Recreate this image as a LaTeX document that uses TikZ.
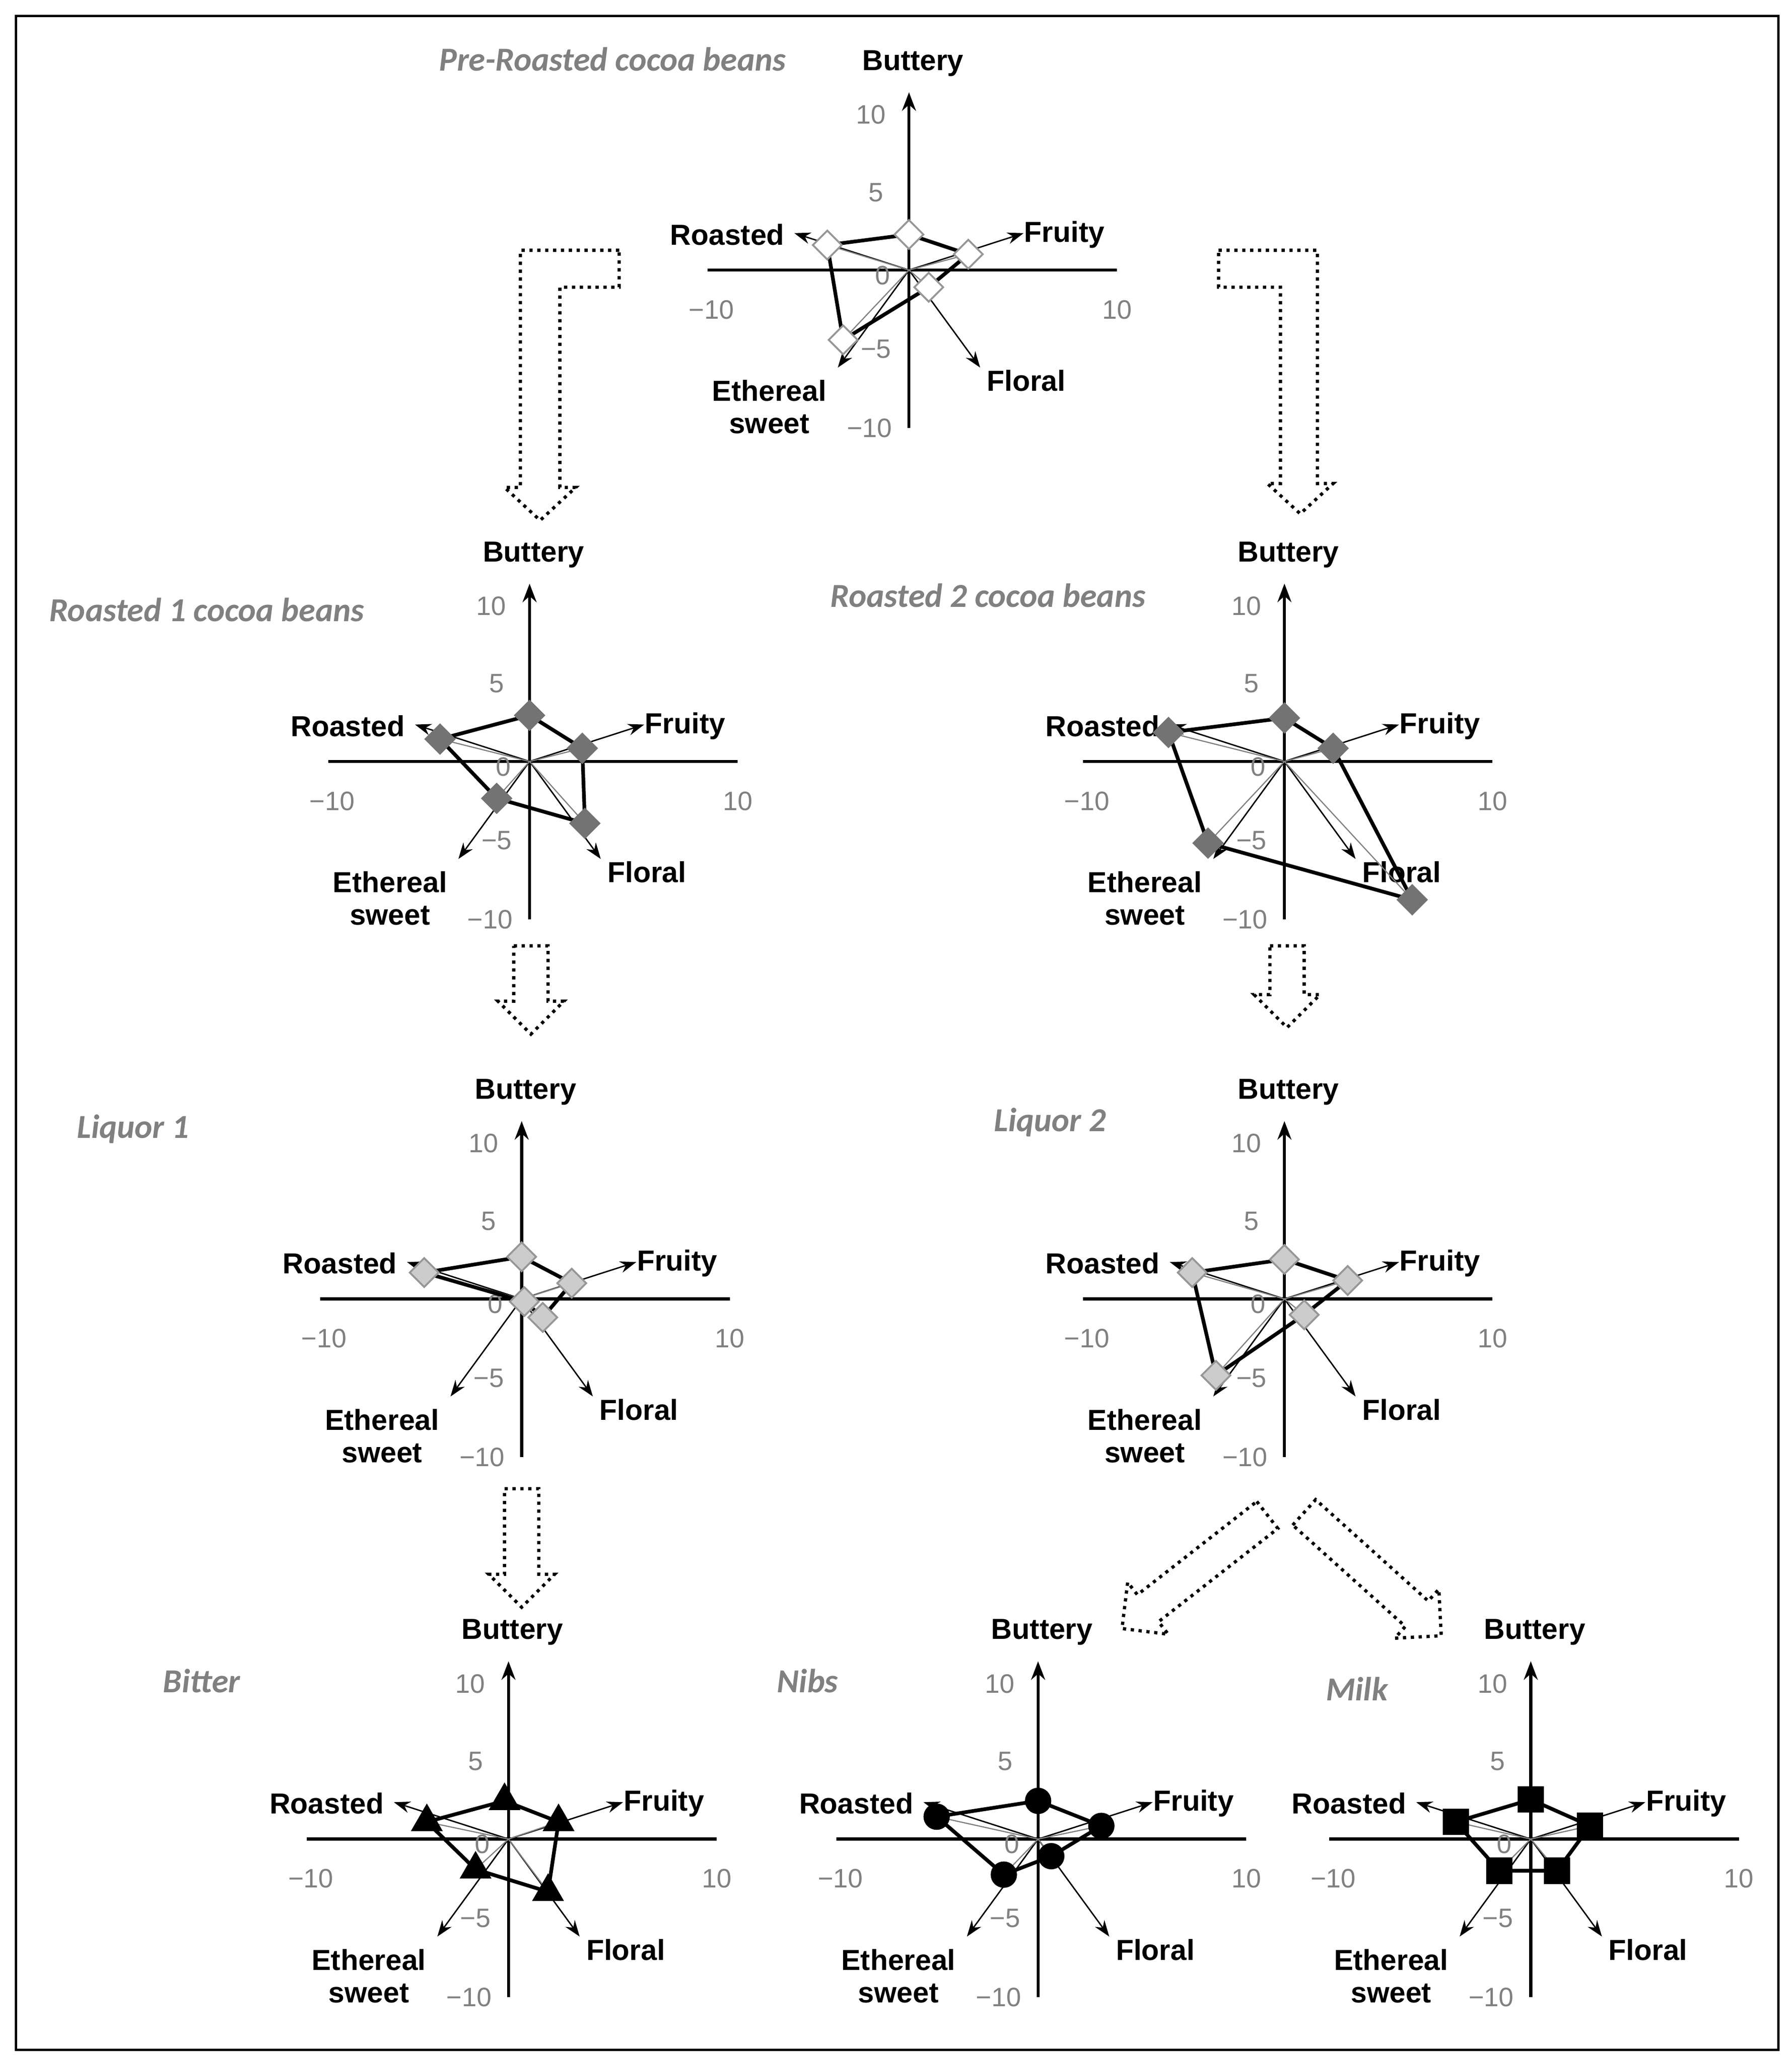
\documentclass[tikz,border=0pt]{standalone}
\usepackage{fontspec}
\setmainfont{Liberation Sans}
\newfontfamily\ttl{Carlito}
\usetikzlibrary{shapes.geometric,arrows.meta}
\definecolor{tg}{RGB}{128,128,128}
\definecolor{mg}{RGB}{150,150,150}
\tikzset{
 axis/.style={line width=1.3pt,black},
 spoke/.style={line width=0.6pt,-{Stealth[length=7pt,width=5pt]}},
 lab/.style={font=\fontsize{12.5}{14}\selectfont\bfseries,align=center,inner sep=1pt},
 tick/.style={font=\fontsize{11.5}{13}\selectfont,text=tg,inner sep=1pt},
 ttlst/.style={font=\ttl\fontsize{14.5}{16}\selectfont\bfseries\itshape,text=tg},
 poly/.style={line width=1.6pt,line join=round},
 mk/.style={draw=mg,line width=0.8pt,inner sep=0pt},
 dopen/.style={mk,diamond,minimum size=0.45cm,fill=white},
 dlight/.style={mk,diamond,minimum size=0.45cm,fill=black!20},
 dgray/.style={mk,diamond,minimum size=0.45cm,fill=black!55,draw=black!55},
 tri/.style={isosceles triangle,shape border rotate=90,isosceles triangle apex angle=60,fill=black,inner sep=0pt,minimum size=0.42cm},
 circ/.style={circle,fill=black,minimum size=0.4cm,inner sep=0pt},
 sq/.style={rectangle,fill=black,minimum size=0.4cm,inner sep=0pt},
 blk/.style={line width=1.4pt,dotted,fill=white,line join=miter},
}
% #1 prefix, #2 cx, #3 cy, #4 marker, #5-#9 data points B Fr Fl E R
\newcommand\radar[9]{%
 \begin{scope}[shift={(#2,#3)}]
 \coordinate (#1o) at (0,0);
 \draw[axis] (-153,0) -- (158,0);
 \draw[axis,-{Stealth[length=8pt,width=6pt]}] (0,120) -- (0,-135);
 \draw[spoke] (#1o) -- (87,-28);
 \draw[spoke] (#1o) -- (54,74);
 \draw[spoke] (#1o) -- (-54,74);
 \draw[spoke] (#1o) -- (-87,-28);
 \node[tick] (#1t1) at (-29,-118) {10};
 \node[tick] (#1t2) at (-25,-59) {5};
 \node[tick] (#1t3) at (-20,4) {0};
 \node[tick] (#1t4) at (-25,60) {−5};
 \node[tick] (#1t5) at (-30,120) {−10};
 \node[tick] (#1t6) at (-150,30) {−10};
 \node[tick] (#1t7) at (158,30) {10};
 \node[lab] (#1lb) at (3,-157) {Buttery};
 \node[lab] (#1lr) at (-138,-27) {Roasted};
 \node[lab] (#1lf) at (118,-27) {Fruity};
 \node[lab] (#1ll) at (89,84) {Floral};
 \node[lab] (#1le) at (-106,104) {Ethereal\\sweet};
 \coordinate (#1B) at (#5); \coordinate (#1F) at (#6); \coordinate (#1L) at (#7);
 \coordinate (#1E) at (#8); \coordinate (#1R) at (#9);
 \draw[line width=0.5pt,tg] (#1o) -- (#1F) (#1o) -- (#1L) (#1o) -- (#1E) (#1o) -- (#1R);
 \draw[poly] (#1B) -- (#1F) -- (#1L) -- (#1E) -- (#1R) -- cycle;
 \foreach \p in {B,F,L,E,R} \node[#4] at (#1\p) {};
 \end{scope}}
% straight block arrow: #1 x, #2 y, #3 rotate, #4 length
\newcommand\barrow[4]{%
 \begin{scope}[shift={(#1,#2)},rotate=#3]
 \draw[blk] (-13,0) -- (13,0) -- (13,#4-25) -- (25,#4-25) -- (0,#4) -- (-25,#4-25) -- (-13,#4-25) -- cycle;
 \end{scope}}
\begin{document}
\begin{tikzpicture}[x=0.02cm,y=-0.02cm]
\useasboundingbox (0,0) rectangle (1360,1566);
\draw[line width=1pt] (12,12) rectangle (1350,1556);
% titles
\node[ttlst] (t1) at (465,45) {Pre-Roasted cocoa beans};
\node[ttlst] (t2) at (157,463) {Roasted 1 cocoa beans};
\node[ttlst] (t3) at (750,452) {Roasted 2 cocoa beans};
\node[ttlst] (t4) at (101,857) {Liquor 1};
\node[ttlst] (t5) at (797,852) {Liquor 2};
\node[ttlst] (t6) at (153,1276) {Bitter};
\node[ttlst] (t7) at (613,1276) {Nibs};
\node[ttlst] (t8) at (1030,1282) {Milk};
% block arrows
\draw[blk] (470,190) -- (395,190) -- (395,370) -- (383,370) -- (410,395) -- (437,370) -- (425,370) -- (425,218) -- (470,218) -- cycle;
\draw[blk] (925,190) -- (1000,190) -- (1000,367) -- (1012,367) -- (987,390) -- (962,367) -- (972,367) -- (972,218) -- (925,218) -- cycle;
\barrow{403}{718}{0}{67}
\barrow{977}{718}{0}{62}
\barrow{396}{1130}{0}{90}
\barrow{962}{1150}{-52}{140}
\barrow{990}{1148}{48}{140}
% charts
\radar{a}{690}{205}{dopen}{0,-27}{45,-12}{15,13}{-50,53}{-62,-19}
\radar{b}{402}{578}{dgray}{0,-35}{40,-10}{42,47}{-25,28}{-68,-17}
\radar{c}{975}{578}{dgray}{0,-33}{37,-10}{97,105}{-58,62}{-88,-22}
\radar{d}{396}{986}{dlight}{0,-32}{38,-12}{16,14}{2,2}{-74,-20}
\radar{e}{975}{986}{dlight}{0,-30}{48,-14}{15,12}{-52,58}{-70,-20}
\radar{f}{386}{1396}{tri}{-3,-29}{38,-13}{30,40}{-25,23}{-62,-13}
\radar{g}{788}{1396}{circ}{0,-29}{48,-10}{10,13}{-26,27}{-77,-17}
\radar{h}{1162}{1396}{sq}{0,-30}{45,-10}{20,24}{-24,24}{-57,-13}
\end{tikzpicture}
\end{document}
